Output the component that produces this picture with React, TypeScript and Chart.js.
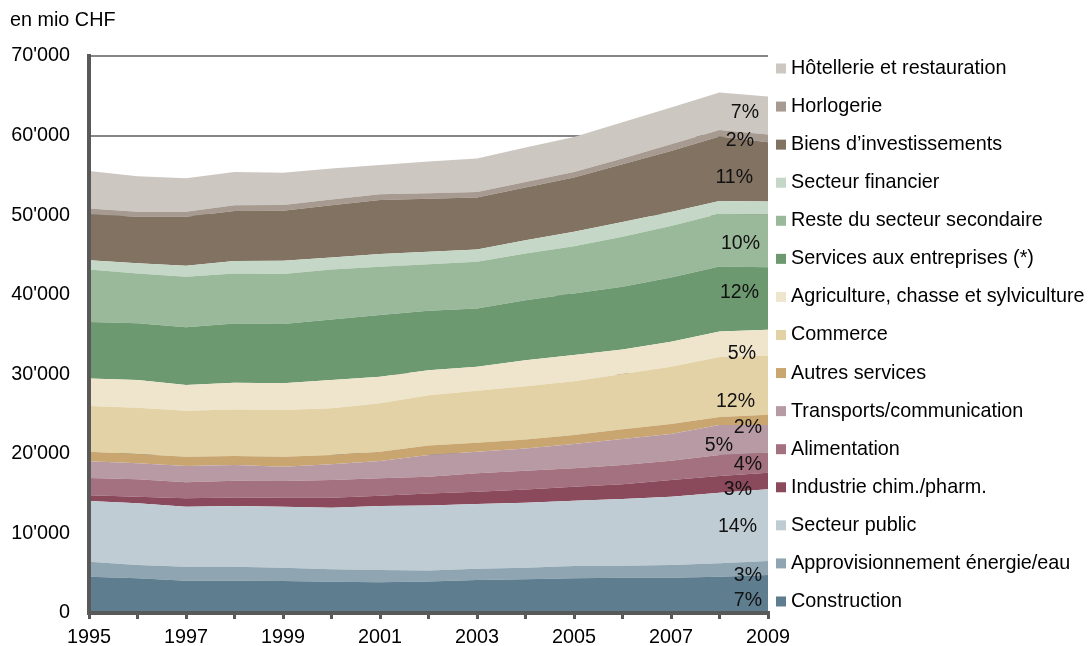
import React, { useEffect, useRef } from 'react';
import { Chart, registerables } from 'chart.js';

Chart.register(...registerables);

const FONT = "'Liberation Sans', Arial, sans-serif";

// Categories
const years = ['1995', '1996', '1997', '1998', '1999', '2000', '2001', '2002', '2003', '2004', '2005', '2006', '2007', '2008', '2009'];

// Series (bottom to top of the stack), values in mio CHF
const construction = [4560, 4360, 4060, 4060, 4020, 3930, 3860, 3960, 4150, 4230, 4360, 4430, 4430, 4560, 4770];
const energieEau = [1880, 1670, 1760, 1760, 1670, 1560, 1550, 1380, 1420, 1460, 1550, 1510, 1600, 1680, 1760];
const secteurPublic = [7620, 7750, 7540, 7620, 7660, 7740, 8040, 8160, 8130, 8160, 8200, 8380, 8580, 8870, 9010];
const chimPharm = [750, 830, 1060, 1090, 1130, 1260, 1290, 1530, 1550, 1680, 1760, 1850, 2100, 2100, 2090];
const alimentation = [2170, 2190, 2010, 2090, 2100, 2220, 2190, 2090, 2310, 2340, 2310, 2420, 2420, 2640, 2510];
const transports = [2100, 2010, 2050, 1970, 1800, 1970, 2170, 2730, 2710, 2810, 3050, 3270, 3350, 3770, 3480];
const autresServices = [1170, 1170, 1170, 1130, 1260, 1170, 1170, 1190, 1130, 1130, 1130, 1220, 1260, 1000, 1300];
const commerce = [5780, 5820, 5780, 5870, 5870, 5870, 6080, 6340, 6530, 6690, 6780, 6950, 7200, 7540, 7450];
const agriculture = [3440, 3480, 3230, 3340, 3350, 3550, 3340, 3140, 3010, 3270, 3270, 3100, 3140, 3220, 3230];
const servicesEntreprises = [7110, 7120, 7250, 7460, 7450, 7620, 7750, 7450, 7340, 7540, 7750, 7860, 8090, 8160, 7860];
const resteSecondaire = [6580, 6280, 6360, 6280, 6280, 6280, 6070, 5870, 5850, 5870, 5940, 6280, 6480, 6620, 6620];
const secteurFinancier = [1170, 1260, 1380, 1580, 1670, 1510, 1600, 1550, 1560, 1670, 1800, 1880, 1760, 1630, 1630];
const biensInvest = [5780, 5850, 6150, 6280, 6280, 6570, 6780, 6680, 6530, 6620, 6830, 7250, 7660, 8080, 7450];
const horlogerie = [720, 630, 630, 720, 720, 720, 720, 690, 700, 700, 700, 720, 840, 840, 970];
const hotellerie = [4720, 4480, 4200, 4180, 4060, 3890, 3680, 3990, 4200, 4320, 4400, 4560, 4610, 4690, 4770];

const seriesNames = [
  'Construction',
  'Approvisionnement énergie/eau',
  'Secteur public',
  'Industrie chim./pharm.',
  'Alimentation',
  'Transports/communication',
  'Autres services',
  'Commerce',
  'Agriculture, chasse et sylviculture',
  'Services aux entreprises (*)',
  'Reste du secteur secondaire',
  'Secteur financier',
  'Biens d\u2019investissements',
  'Horlogerie',
  'Hôtellerie et restauration',
];

const seriesValues = [
  construction, energieEau, secteurPublic, chimPharm, alimentation, transports, autresServices,
  commerce, agriculture, servicesEntreprises, resteSecondaire, secteurFinancier, biensInvest,
  horlogerie, hotellerie,
];

// Share labels for 2009
const shareLabels = ['7%', '3%', '14%', '3%', '4%', '5%', '2%', '12%', '5%', '12%', '10%', '', '11%', '2%', '7%'];

// Styles
const colors = [
  '#5e7d8f', '#8fa6b2', '#bfccd4', '#8b4a5c', '#a3717f', '#b79aa3', '#c9a66f',
  '#e3d2a5', '#efe5cc', '#6d9970', '#9ab89a', '#c5d7c6', '#827262', '#a69a91', '#ccc7c0',
];
// pixel nudges [dx, dy] of the share labels (text layout only)
const labelNudges = [
  [2, 7], [2, 8], [-3, 1], [-8, 9], [2, 2], [-27, 7], [2, 8], [-5, 17], [-4, 11], [-1, -6], [0, 3], [0, 0], [-7, 6], [-6, 2], [-1, -3],
];

const overlayPlugin = {
  id: 'overlay',
  afterDraw(chart: any) {
    const { ctx, chartArea, scales } = chart;
    const yScale = scales.y;
    ctx.save();
    ctx.font = `19.8px ${FONT}`;
    ctx.fillStyle = '#000';
    ctx.textBaseline = 'middle';
    ctx.textAlign = 'left';
    ctx.fillText('en mio CHF', 10, 21);

    // share labels at the right end of each band
    const last = years.length - 1;
    let cum = 0;
    ctx.font = `19.5px ${FONT}`;
    seriesValues.forEach((vals, i) => {
      const v = vals[last];
      const y0 = yScale.getPixelForValue(cum);
      const y1 = yScale.getPixelForValue(cum + v);
      cum += v;
      const lbl = shareLabels[i];
      if (!lbl) return;
      const [dx, dy] = labelNudges[i];
      ctx.textAlign = 'right';
      ctx.fillStyle = '#111';
      ctx.fillText(lbl, chartArea.right - 8 + dx, (y0 + y1) / 2 + dy);
    });

    // legend (reverse order)
    ctx.font = `19.8px ${FONT}`;
    const n = seriesNames.length;
    for (let k = 0; k < n; k++) {
      const i = n - 1 - k;
      const cy = chartArea.top + 12.5 + k * 38.07;
      ctx.fillStyle = colors[i];
      ctx.fillRect(chartArea.right + 8, cy - 5, 10, 10);
      ctx.fillStyle = '#000';
      ctx.textAlign = 'left';
      ctx.fillText(seriesNames[i], chartArea.right + 23, cy);
    }
    ctx.restore();
  },
};

function fmt(v: number) {
  if (v === 0) return '0';
  return `${Math.round(v / 1000)}'000`;
}

export default function App() {
  const ref = useRef<HTMLCanvasElement | null>(null);
  useEffect(() => {
    if (!ref.current) return;
    const chart = new Chart(ref.current, {
      type: 'line',
      data: {
        labels: years,
        datasets: seriesValues.map((vals, i) => ({
          label: seriesNames[i],
          data: vals,
          backgroundColor: colors[i],
          borderColor: 'rgba(0,0,0,0)',
          borderWidth: 0,
          pointRadius: 0,
          tension: 0,
          fill: i === 0 ? 'origin' : '-1',
        })),
      },
      options: {
        animation: false,
        responsive: true,
        maintainAspectRatio: false,
        layout: { padding: { top: 56, right: 320, left: 0, bottom: 0 } },
        plugins: {
          legend: { display: false },
          tooltip: { enabled: false },
        },
        scales: {
          x: {
            type: 'category',
            offset: false,
            grid: {
              display: true,
              drawOnChartArea: false,
              drawTicks: true,
              tickLength: 6,
              color: '#595959',
              lineWidth: 3,
            },
            border: { display: true, color: '#595959', width: 4, z: 1 },
            ticks: {
              autoSkip: false,
              maxRotation: 0,
              padding: 7,
              color: '#000',
              font: { family: FONT, size: 19.8 },
              callback: (_v: any, idx: number) => (idx % 2 === 0 ? years[idx] : ''),
            },
            afterFit: (s: any) => { s.height = 33; },
          },
          y: {
            stacked: true,
            min: 0,
            max: 70000,
            grid: {
              display: true,
              drawTicks: false,
              color: '#868686',
              lineWidth: 2,
            },
            border: { display: true, color: '#595959', width: 4, z: 1 },
            ticks: {
              stepSize: 10000,
              padding: 19,
              color: '#000',
              font: { family: FONT, size: 19.8 },
              callback: (v: any) => fmt(Number(v)),
            },
            afterFit: (s: any) => { s.width = 89; },
          },
        },
      },
      plugins: [overlayPlugin],
    } as any);
    return () => chart.destroy();
  }, []);

  return (
    <div style={{ position: 'fixed', left: 0, top: 0, width: 1088, height: 646, background: '#fff' }}>
      <canvas ref={ref} />
    </div>
  );
}
